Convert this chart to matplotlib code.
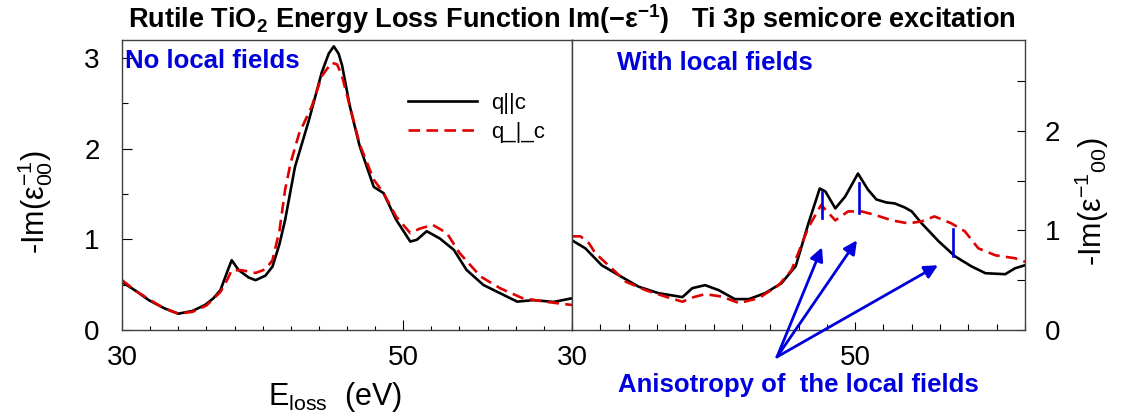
import matplotlib
matplotlib.use('Agg')
import matplotlib.pyplot as plt
from matplotlib.ticker import FixedLocator, MultipleLocator

plt.rcParams['font.family'] = ['Liberation Sans', 'DejaVu Sans']
plt.rcParams['mathtext.fontset'] = 'custom'
plt.rcParams['mathtext.rm'] = 'Liberation Sans'
plt.rcParams['mathtext.it'] = 'Liberation Sans:italic'
plt.rcParams['mathtext.bf'] = 'Liberation Sans:bold'

# --- data: energy loss (eV) and -Im(eps^-1) ---
# left panel: no local fields
e_nlf_par = [30.0, 31.0, 31.9, 33.0, 34.0, 35.0, 35.9, 36.5, 37.0, 37.5, 37.8, 38.3, 39.0,
             39.5, 40.2, 40.7, 41.2, 41.6, 42.3, 43.3, 44.2, 44.7, 45.06, 45.4, 45.65, 46.2,
             46.9, 47.9, 48.6, 49.5, 50.5, 50.96, 51.67, 52.6, 53.6, 54.5, 55.7, 56.9, 58.1,
             59.25, 60.7, 62.0]
nlf_par = [0.53, 0.43, 0.33, 0.24, 0.18, 0.21, 0.276, 0.35, 0.44, 0.65, 0.77, 0.66, 0.58,
           0.55, 0.60, 0.70, 0.95, 1.215, 1.80, 2.32, 2.84, 3.05, 3.13, 3.05, 2.92, 2.47,
           2.03, 1.58, 1.51, 1.215, 0.976, 0.995, 1.09, 1.01, 0.884, 0.663, 0.497, 0.405, 0.313,
           0.33, 0.31, 0.35]
e_nlf_perp = [30.0, 31.0, 32.0, 33.0, 34.0, 35.0, 36.0, 37.0, 37.5, 37.8, 38.5, 39.5, 40.2,
              40.7, 41.2, 41.6, 42.0, 42.6, 43.5, 44.2, 44.9, 45.3, 45.65, 46.2, 46.9, 47.9,
              48.6, 49.5, 50.5, 51.2, 52.1, 53.1, 54.0, 55.5, 56.9, 58.5, 60.2, 62.0]
nlf_perp = [0.55, 0.43, 0.33, 0.24, 0.18, 0.20, 0.27, 0.42, 0.56, 0.66, 0.66, 0.63, 0.67,
            0.77, 1.10, 1.55, 1.85, 2.17, 2.47, 2.80, 2.95, 2.93, 2.80, 2.47, 2.05, 1.66,
            1.51, 1.25, 1.07, 1.12, 1.16, 1.07, 0.85, 0.59, 0.46, 0.35, 0.31, 0.276]

# right panel: with local fields
e_lf_par = [30.0, 30.94, 32.1, 33.3, 34.7, 36.1, 37.8, 38.5, 39.4, 40.36, 41.5, 42.5, 43.65,
            44.8, 45.8, 46.7, 47.5, 47.9, 48.6, 49.3, 50.2, 50.9, 51.5, 52.2, 52.8, 53.5, 54.0,
            54.7, 55.9, 57.05, 58.2, 59.2, 60.6, 61.3, 62.0]
lf_par = [0.90, 0.82, 0.65, 0.55, 0.435, 0.37, 0.33, 0.42, 0.45, 0.40, 0.31, 0.31, 0.37,
          0.47, 0.64, 1.07, 1.42, 1.39, 1.22, 1.34, 1.57, 1.41, 1.31, 1.28, 1.27, 1.23, 1.19,
          1.07, 0.89, 0.74, 0.64, 0.57, 0.56, 0.62, 0.65]
e_lf_perp = [30.0, 30.6, 31.2, 31.65, 32.8, 33.8, 35.2, 36.6, 37.8, 38.6, 39.4, 40.6, 41.8,
             43.2, 44.6, 45.5, 46.7, 47.6, 48.6, 49.5, 50.46, 51.4, 52.6, 53.75, 54.7, 55.6,
             56.8, 57.75, 58.7, 59.9, 61.3, 62.0]
lf_perp = [0.94, 0.94, 0.87, 0.77, 0.62, 0.485, 0.40, 0.335, 0.284, 0.33, 0.36, 0.335, 0.27,
           0.32, 0.45, 0.60, 1.03, 1.255, 1.10, 1.19, 1.19, 1.155, 1.10, 1.07, 1.09, 1.14,
           1.07, 0.99, 0.82, 0.75, 0.72, 0.685]

# anisotropy markers (vertical bars) and arrow targets in the right panel
bar_x = [47.66, 50.27, 56.9]
bar_lo = [1.125, 1.175, 0.743]
bar_hi = [1.385, 1.476, 1.014]
arrow_from = (44.48, -0.27)
arrow_to_x = [47.66, 50.13, 55.85]
arrow_to_y = [0.83, 0.90, 0.65]

blue = '#0000dd'
red = '#e00000'
dash = (0, (4.4, 2.4))

fig = plt.figure(figsize=(11.34, 4.19), dpi=100)
ax1 = fig.add_axes([0.1076, 0.2124, 0.3968, 0.6921])
ax2 = fig.add_axes([0.5044, 0.2124, 0.3995, 0.6921])

ax1.plot(e_nlf_par, nlf_par, color='black', lw=1.9, label='q||c')
ax1.plot(e_nlf_perp, nlf_perp, color=red, lw=1.9, ls=dash, label='q_|_c')
ax2.plot(e_lf_par, lf_par, color='black', lw=1.9)
ax2.plot(e_lf_perp, lf_perp, color=red, lw=1.9, ls=dash)

for ax in (ax1, ax2):
    ax.set_xlim(30, 62)
    ax.xaxis.set_major_locator(FixedLocator([30, 50]))
    ax.xaxis.set_minor_locator(MultipleLocator(2))
    ax.yaxis.set_major_locator(MultipleLocator(1))
    ax.yaxis.set_minor_locator(MultipleLocator(0.5))
    for s in ax.spines.values():
        s.set_linewidth(1.0)
        s.set_color('0.25')

ax1.set_ylim(0, 3.2)
ax2.set_ylim(0, 2.91)

ax1.tick_params(axis='both', which='both', direction='in', labelsize=20, width=0.8,
                top=False, right=False)
ax1.tick_params(axis='x', which='major', length=7, pad=11)
ax1.tick_params(axis='x', which='minor', length=3)
ax1.tick_params(axis='y', which='major', length=7, pad=16)
ax1.tick_params(axis='y', which='minor', length=4)

ax2.tick_params(axis='both', which='both', direction='in', labelsize=20, width=0.8,
                top=False, left=False, right=True, labelleft=False, labelright=True)
ax2.tick_params(axis='x', which='major', length=6, pad=11)
ax2.tick_params(axis='x', which='minor', length=4)
ax2.tick_params(axis='y', which='both', length=6, pad=14)

for x, lo, hi in zip(bar_x, bar_lo, bar_hi):
    ax2.plot([x, x], [lo, hi], color=blue, lw=1.9)

for tx, ty in zip(arrow_to_x, arrow_to_y):
    ax2.annotate('', xy=(tx, ty), xytext=arrow_from, annotation_clip=False,
                 arrowprops=dict(arrowstyle='-|>', color=blue, lw=2.0,
                                 mutation_scale=20, shrinkA=0, shrinkB=0))

ax1.legend(frameon=False, loc='upper left', bbox_to_anchor=(0.636, 0.818),
           fontsize=16, handlelength=3.1, handletextpad=0.65, labelspacing=0.35,
           borderpad=0, borderaxespad=0)

ax1.text(0.007, 0.903, 'No local fields', transform=ax1.transAxes, color=blue,
         fontsize=18.5, fontweight='bold', va='baseline', ha='left')
ax2.text(0.099, 0.897, 'With local fields', transform=ax2.transAxes, color=blue,
         fontsize=18.5, fontweight='bold', va='baseline', ha='left')
fig.text(0.545, 0.0644, 'Anisotropy of  the local fields', color=blue,
         fontsize=18.5, fontweight='bold', va='baseline', ha='left')

fig.text(0.504, 0.933,
         r'Rutile TiO$_{\mathbf{2}}$ Energy Loss Function Im($\mathbf{-}$ε$^{\mathbf{-1}}$)   Ti 3p semicore excitation',
         fontsize=19.5, fontweight='bold', ha='center', va='baseline')

fig.text(0.236, 0.0334, r'E$_{\rm loss}$  (eV)', fontsize=22, ha='left', va='baseline')
fig.text(35 / 1134, 1 - 202 / 419, r'-Im(ε$_{00}^{-1}$)', fontsize=22, rotation=90,
         ha='center', va='center')
fig.text(1092 / 1134, 1 - 202 / 419, r'-Im(ε$^{-1}$$_{00}$)', fontsize=22, rotation=90,
         ha='center', va='center')

fig.savefig('out.png', dpi=100)
